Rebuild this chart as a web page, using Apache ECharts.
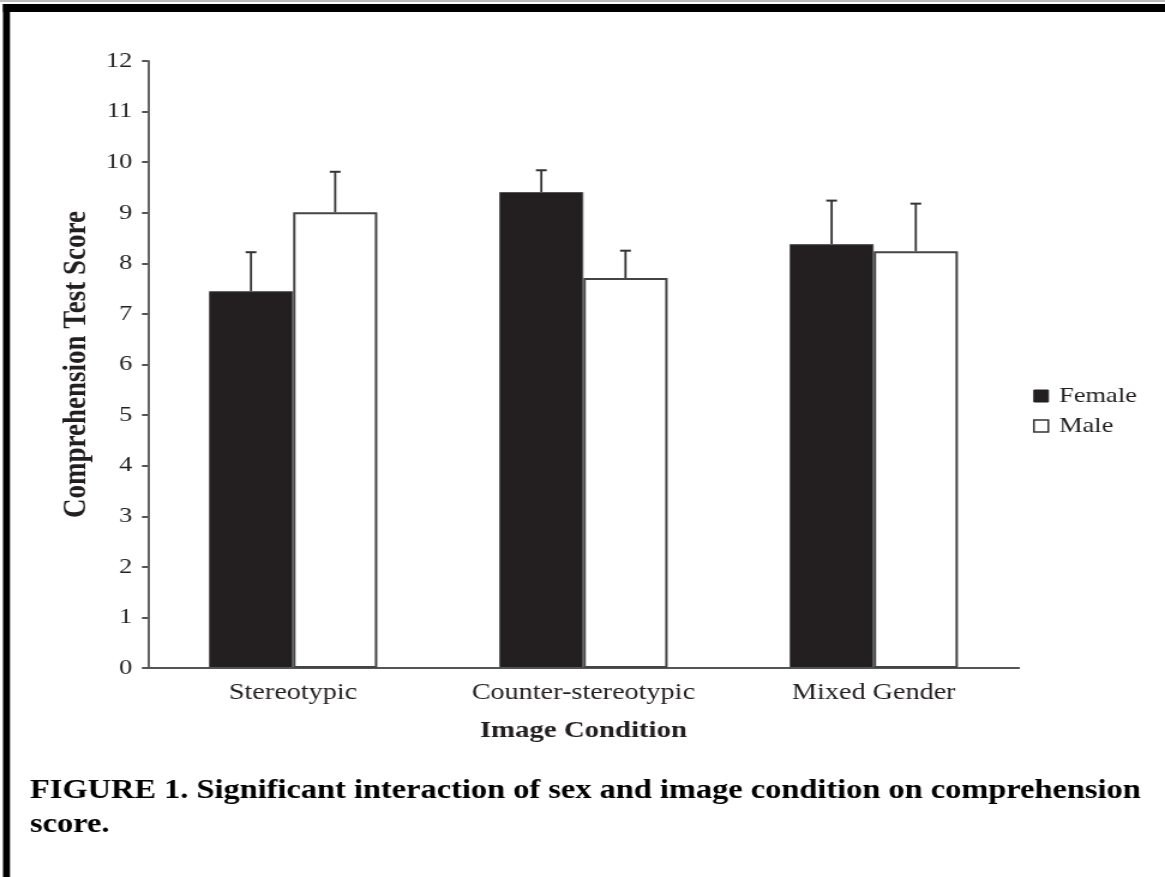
<!DOCTYPE html>
<html>
<head>
<meta charset="utf-8">
<script src="https://cdn.jsdelivr.net/npm/echarts@6/dist/echarts.min.js"></script>
<style>
html,body{margin:0;padding:0;background:#fff;overflow:hidden;}
#wrap{width:1165px;height:877px;overflow:hidden;position:relative;}
#chart{width:971px;height:877px;transform:scaleX(1.19979);transform-origin:0 0;}
</style>
</head>
<body>
<div id="wrap"><div id="chart"></div></div>
<script>
var categories = ['Stereotypic', 'Counter-stereotypic', 'Mixed Gender'];
var femaleMeans = [7.45, 9.41, 8.38];
var femaleUpper = [8.22, 9.84, 9.24];
var maleMeans = [9.01, 7.71, 8.24];
var maleUpper = [9.81, 8.25, 9.18];
var yTicks = [0, 1, 2, 3, 4, 5, 6, 7, 8, 9, 10, 11, 12];

var FONT = '"Liberation Serif", "Times New Roman", serif';
var INK = '#231f20';
var BAR_FRAC = 0.29;

function errData(means, upper) {
  return means.map(function (m, i) { return [i, m, upper[i]]; });
}
function makeErr(side) {
  return function (params, api) {
    var x = api.value(0);
    var p0 = api.coord([x, api.value(1)]);
    var p1 = api.coord([x, api.value(2)]);
    var band = api.size([1, 0])[0];
    var cx = p0[0] + side * band * BAR_FRAC / 2;
    return {
      type: 'group',
      children: [
        { type: 'line', shape: { x1: cx, y1: p0[1], x2: cx, y2: p1[1] }, style: { stroke: '#333', lineWidth: 1.8 } },
        { type: 'line', shape: { x1: cx - 4.5, y1: p1[1], x2: cx + 4.5, y2: p1[1] }, style: { stroke: '#333', lineWidth: 2 } }
      ]
    };
  };
}

var chart = echarts.init(document.getElementById('chart'));
chart.setOption({
  backgroundColor: '#fff',
  animation: false,
  textStyle: { fontFamily: FONT, color: INK },
  grid: { left: 123.3, right: 121.8, top: 61, bottom: 209, containLabel: false },
  legend: {
    orient: 'vertical', left: 861, top: 385, itemGap: 8, padding: 0,
    itemWidth: 12, itemHeight: 12, icon: 'rect',
    textStyle: { fontFamily: FONT, fontSize: 22, color: INK, padding: [0, 0, 0, 4] },
    data: [
      { name: 'Female', itemStyle: { color: INK, borderColor: INK, borderWidth: 1 } },
      { name: 'Male', itemStyle: { color: '#fff', borderColor: '#333', borderWidth: 1.5 } }
    ]
  },
  xAxis: {
    type: 'category', data: categories,
    name: 'Image Condition', nameLocation: 'middle', nameGap: 51,
    nameTextStyle: { fontFamily: FONT, fontSize: 24, fontWeight: 'bold', color: INK },
    axisLine: { lineStyle: { color: '#555', width: 2 } },
    axisTick: { show: false },
    axisLabel: { interval: 0, fontFamily: FONT, fontSize: 23.5, color: INK, margin: 13 }
  },
  yAxis: {
    type: 'value', min: yTicks[0], max: yTicks[yTicks.length - 1], interval: 1,
    name: 'Comprehension Test Score', nameLocation: 'middle', nameGap: 41,
    nameTextStyle: { fontFamily: FONT, fontSize: 27, fontWeight: 'bold', color: INK },
    axisLine: { show: true, lineStyle: { color: '#555', width: 1.8 } },
    axisTick: { show: true, length: 5, lineStyle: { color: '#555', width: 2 } },
    splitLine: { show: false },
    axisLabel: { fontFamily: FONT, fontSize: 22, color: INK, margin: 13 }
  },
  series: [
    { name: 'Female', type: 'bar', data: femaleMeans, barWidth: '29%', barGap: '0%',
      itemStyle: { color: INK, borderColor: '#555', borderWidth: 1 } },
    { name: 'Male', type: 'bar', data: maleMeans, barWidth: '29%', barGap: '0%',
      itemStyle: { color: '#fff', borderColor: '#444', borderWidth: 2 } },
    { type: 'custom', name: 'femaleErr', data: errData(femaleMeans, femaleUpper), renderItem: makeErr(-1), z: 3, silent: true },
    { type: 'custom', name: 'maleErr', data: errData(maleMeans, maleUpper), renderItem: makeErr(1), z: 3, silent: true }
  ],
  graphic: [
    { type: 'rect', shape: { x: 0, y: 0, width: 971, height: 2 }, style: { fill: '#bbb' } },
    { type: 'rect', shape: { x: 2.5, y: 4, width: 969, height: 8 }, style: { fill: '#000' } },
    { type: 'rect', shape: { x: 2.5, y: 4, width: 5.8, height: 873 }, style: { fill: '#000' } },
    { type: 'text', left: 25, top: 774, style: {
      text: 'FIGURE 1. Significant interaction of sex and image condition on comprehension\nscore.',
      font: 'bold 27px ' + FONT, fill: '#000', lineHeight: 34 } }
  ]
});
</script>
</body>
</html>
